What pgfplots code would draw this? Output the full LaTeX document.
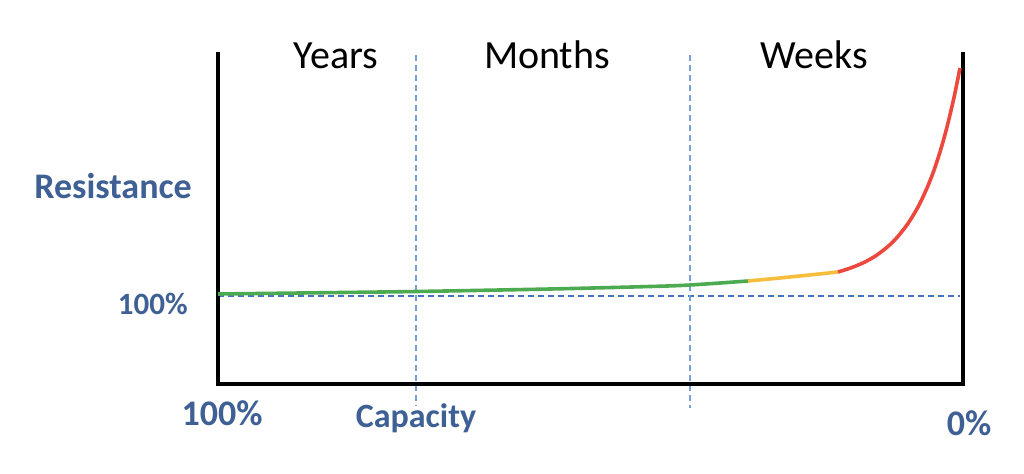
\documentclass[border=0pt]{standalone}
\usepackage{pgfplots}
\pgfplotsset{compat=1.18}
\usepackage{fontspec}
\setmainfont{Carlito}
\definecolor{lblue}{RGB}{62,96,148}
\definecolor{dblue}{RGB}{68,114,196}
\definecolor{vblue}{RGB}{120,158,214}
\definecolor{cgreen}{RGB}{76,170,80}
\definecolor{cyellow}{RGB}{246,190,60}
\definecolor{cred}{RGB}{236,72,62}
\begin{document}
\begin{tikzpicture}
\path (0,0) rectangle (512pt,236.5pt);
\begin{axis}[
  scale only axis, width=512pt, height=236.5pt,
  xmin=0, xmax=1024, ymin=0, ymax=473,
  hide axis, clip=false,
  at={(0,0)}, anchor=south west,
]
% reference lines
\addplot[dblue, line width=0.7pt, dash pattern=on 3pt off 2pt] coordinates {(218,177) (960,177)};
\addplot[vblue, line width=0.7pt, dash pattern=on 3pt off 2pt] coordinates {(416,418) (416,67)};
\addplot[vblue, line width=0.7pt, dash pattern=on 3pt off 2pt] coordinates {(690,418) (690,65)};
% frame
\addplot[black, line width=2pt] coordinates {(218,421) (218,89) (963,89) (963,421)};
% curve
\addplot[cgreen, line width=1.8pt, smooth] coordinates {(218,179) (300,180) (416,181.5) (550,184) (650,186.5) (690,188) (748,192)};
\addplot[cyellow, line width=1.8pt, smooth] coordinates {(748,192) (790,196) (838,201)};
\addplot[cred, line width=1.8pt, smooth] coordinates {(838,201) (850,204.8) (863,210.1) (875,216.7) (887,225.7) (897,235.5) (908,249.5) (918,266) (926,282.7) (933,300) (940,321) (947,346) (954,375.5) (960,405)};
% labels
\node[anchor=base, font=\fontsize{20}{24}\selectfont] at (axis cs:336,405) {Years};
\node[anchor=base, font=\fontsize{20}{24}\selectfont] at (axis cs:547,405) {Months};
\node[anchor=base, font=\fontsize{20}{24}\selectfont] at (axis cs:814,405) {Weeks};
\node[anchor=base, text=lblue, font=\fontsize{18}{22}\selectfont\bfseries] at (axis cs:113,275) {Resistance};
\node[anchor=base east, inner sep=0pt, text=lblue, font=\fontsize{15.5}{19}\selectfont\bfseries] at (axis cs:188,159) {100\%};
\node[anchor=base, text=lblue, font=\fontsize{18}{22}\selectfont\bfseries] at (axis cs:222,48) {100\%};
\node[anchor=base, text=lblue, font=\fontsize{17}{21}\selectfont\bfseries] at (axis cs:416,46) {Capacity};
\node[anchor=base, text=lblue, font=\fontsize{18}{22}\selectfont\bfseries] at (axis cs:969,38) {0\%};
\end{axis}
\end{tikzpicture}
\end{document}
